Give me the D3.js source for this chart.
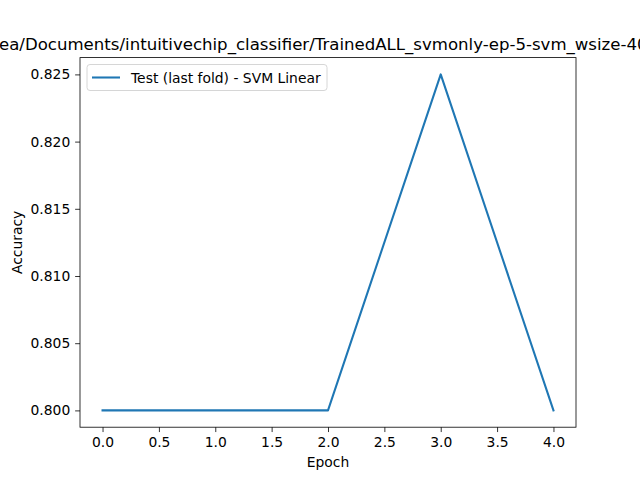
<!DOCTYPE html>
<html><head><meta charset="utf-8">
<script src="https://cdn.jsdelivr.net/npm/d3@7"></script>
<style>body{margin:0;background:#fff}svg{display:block}text{font-family:"DejaVu Sans",sans-serif;fill:#000}</style>
</head><body>
<script>
const epochs = [0, 1, 2, 3, 4];
const accuracy = [0.800, 0.800, 0.800, 0.825, 0.800];
const xTicks = [0, 0.5, 1, 1.5, 2, 2.5, 3, 3.5, 4];
const yTicks = [0.800, 0.805, 0.810, 0.815, 0.820, 0.825];
const titleText = "ea/Documents/intuitivechip_classifier/TrainedALL_svmonly-ep-5-svm_wsize-40";
const seriesName = "Test (last fold) - SVM Linear";

const W = 640, H = 480;
const L = 80, R = 576, T = 57.6, B = 427.2;
const svg = d3.select("body").append("svg").attr("width", W).attr("height", H);

const x = d3.scaleLinear().domain([-0.2, 4.2]).range([L, R]);
const y = d3.scaleLinear().domain([0.79875, 0.82625]).range([B, T]);

const fs = 13.89;
const xa = svg.append("g").attr("transform", `translate(0,${B})`)
  .call(d3.axisBottom(x).tickValues(xTicks).tickFormat(d3.format(".1f")).tickSizeOuter(0).tickSize(4.86).tickPadding(4.86));
xa.select(".domain").remove();
xa.selectAll("line").attr("stroke", "#000").attr("stroke-width", 0.8);
xa.selectAll("text").style("font-size", fs + "px").style("font-family", "DejaVu Sans");

const ya = svg.append("g").attr("transform", `translate(${L},0)`)
  .call(d3.axisLeft(y).tickValues(yTicks).tickFormat(d3.format(".3f")).tickSizeOuter(0).tickSize(4.86).tickPadding(4.86));
ya.select(".domain").remove();
ya.selectAll("line").attr("stroke", "#000").attr("stroke-width", 0.8);
ya.selectAll("text").style("font-size", fs + "px").style("font-family", "DejaVu Sans");

const line = d3.line().x((d, i) => x(epochs[i])).y(d => y(d));
svg.append("path").datum(accuracy).attr("d", line)
  .attr("fill", "none").attr("stroke", "#1f77b4").attr("stroke-width", 2.08)
  .attr("stroke-linejoin", "round").attr("stroke-linecap", "square");

svg.append("rect").attr("x", L).attr("y", T).attr("width", R - L).attr("height", B - T)
  .attr("fill", "none").attr("stroke", "#000").attr("stroke-width", 0.8);

svg.append("text").attr("x", (L + R) / 2).attr("y", 467).attr("text-anchor", "middle")
  .style("font-size", fs + "px").text("Epoch");
svg.append("text").attr("transform", `translate(22,${(T + B) / 2}) rotate(-90)`).attr("text-anchor", "middle")
  .style("font-size", fs + "px").text("Accuracy");

svg.append("text").attr("x", -1).attr("y", 50).attr("text-anchor", "start")
  .style("font-size", "16.58px").text(titleText);

const lg = svg.append("g");
lg.append("rect").attr("x", 87).attr("y", 64.5).attr("width", 240).attr("height", 26).attr("rx", 3)
  .attr("fill", "#fff").attr("fill-opacity", 0.8).attr("stroke", "#ccc").attr("stroke-width", 0.8);
lg.append("line").attr("x1", 92).attr("x2", 120).attr("y1", 77.5).attr("y2", 77.5)
  .attr("stroke", "#1f77b4").attr("stroke-width", 2.08);
lg.append("text").attr("x", 131).attr("y", 82.5).style("font-size", fs + "px").text(seriesName);
</script>
</body></html>
